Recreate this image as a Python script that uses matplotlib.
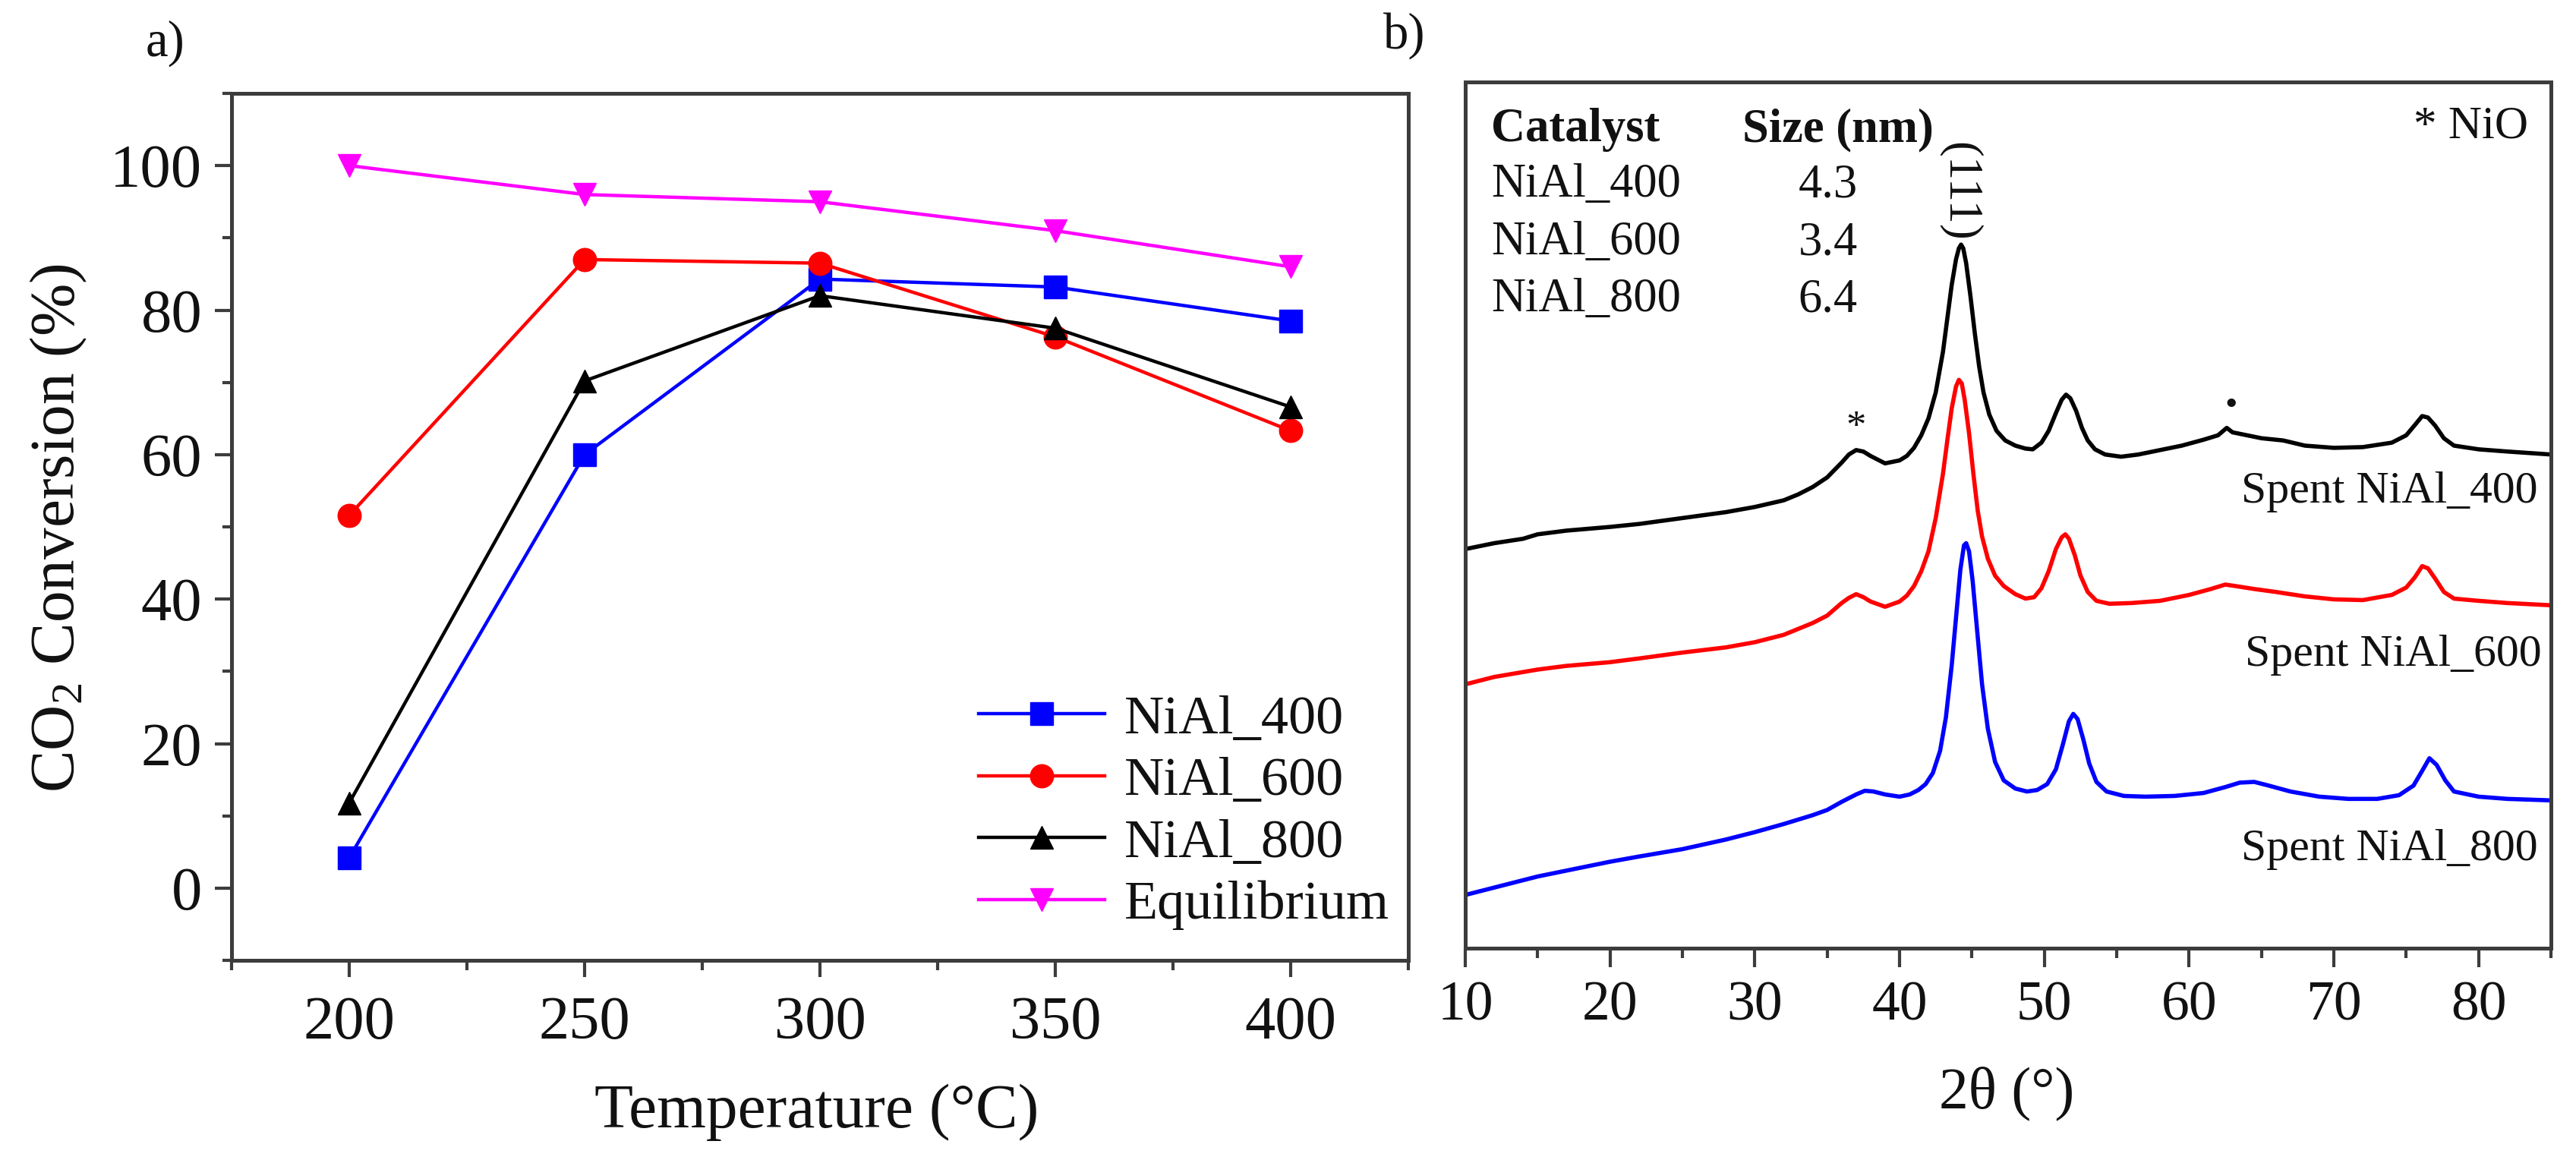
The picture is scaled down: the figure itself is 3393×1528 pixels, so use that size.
import numpy as np
import matplotlib
matplotlib.use('Agg')
import matplotlib.pyplot as plt
from matplotlib.ticker import MultipleLocator

plt.rcParams['font.family'] = ['Liberation Serif', 'DejaVu Serif']
plt.rcParams['mathtext.default'] = 'regular'

# ---- a) CO2 conversion vs temperature
temp = [200, 250, 300, 350, 400]
nial_400 = [4.2, 60.0, 84.3, 83.2, 78.5]
nial_600 = [51.6, 87.0, 86.5, 76.3, 63.3]
nial_800 = [11.8, 70.2, 82.0, 77.5, 66.6]
equilibrium = [100.0, 96.0, 95.0, 91.0, 86.0]

# ---- b) XRD patterns (2theta, intensity a.u. with offsets as drawn)
tt_400 = [10, 12, 14, 15, 17, 20, 22, 25, 28, 30, 32, 33, 34, 35, 36, 36.5, 37, 37.5, 38, 39, 40, 40.5,
          41, 41.5, 42, 42.5, 43, 43.3, 43.6, 43.9, 44.1, 44.25, 44.4, 44.6, 44.9, 45.2, 45.5, 45.8,
          46.2, 46.7, 47.3, 48, 48.7, 49.2, 49.8, 50.3, 50.8, 51.2, 51.5, 51.8, 52.2, 52.6, 53.0, 53.5,
          54.2, 55.3, 56.5, 58, 59.5, 61, 62, 62.6, 63, 64, 65, 66.5, 68, 70, 72, 74, 75, 75.6, 76.1,
          76.5, 77, 77.6, 78.3, 80, 82, 85]
int_400 = [558, 566, 572, 578, 583, 588, 592, 600, 608, 615, 624, 632, 642, 655, 675, 686, 692, 690, 684,
           674, 678, 684, 695, 712, 735, 770, 825, 870, 915, 950, 965, 970, 965, 945, 900, 850, 805, 770,
           740, 718, 705, 698, 694, 693, 702, 718, 742, 760, 767, 762, 745, 722, 705, 693, 686, 683, 686,
           692, 698, 706, 712, 722, 716, 712, 708, 705, 698, 695, 696, 702, 712, 726, 738, 736, 725, 708,
           698, 693, 690, 686]

tt_600 = [10, 12, 15, 17, 20, 22, 25, 28, 30, 32, 33, 34, 35, 36, 36.5, 37, 37.5, 38, 39, 40, 40.5, 41,
          41.5, 42, 42.5, 43, 43.3, 43.6, 43.9, 44.1, 44.3, 44.5, 44.8, 45.1, 45.4, 45.7, 46.1, 46.6,
          47.2, 48, 48.7, 49.3, 49.8, 50.3, 50.8, 51.2, 51.45, 51.7, 52.1, 52.5, 53, 53.6, 54.5, 56, 58,
          60, 61.5, 62.5, 63.2, 64.5, 66, 68, 70, 72, 74, 75, 75.6, 76.1, 76.5, 77, 77.6, 78.3, 80, 82, 85]
int_600 = [375, 385, 395, 400, 405, 410, 418, 425, 432, 442, 450, 458, 468, 485, 492, 497, 493, 487, 480,
           487, 495, 508, 528, 555, 600, 660, 705, 748, 778, 787, 782, 760, 715, 660, 610, 575, 545, 522,
           508, 497, 491, 493, 505, 528, 558, 574, 578, 572, 550, 522, 500, 488, 484, 485, 488, 496, 504,
           510, 508, 504, 500, 494, 490, 489, 496, 506, 520, 535, 532, 518, 500, 491, 488, 485, 482]

tt_800 = [10, 12, 15, 17, 20, 22, 25, 28, 30, 32, 33, 34, 35, 36, 37, 37.6, 38.2, 39, 40, 40.7, 41.3, 41.8,
          42.3, 42.8, 43.2, 43.6, 43.9, 44.2, 44.45, 44.6, 44.8, 45.05, 45.35, 45.7, 46.1, 46.6, 47.2, 48,
          48.8, 49.5, 50.2, 50.8, 51.3, 51.7, 52.0, 52.3, 52.7, 53.1, 53.6, 54.3, 55.5, 57, 59, 61, 62.5,
          63.5, 64.5, 65.5, 67, 69, 71, 73, 74.5, 75.5, 76.1, 76.6, 77.1, 77.7, 78.3, 80, 82, 85]
int_800 = [90, 100, 115, 123, 135, 142, 152, 165, 175, 186, 192, 198, 205, 216, 226, 231, 230, 226, 223,
           226, 232, 240, 255, 285, 330, 400, 465, 530, 563, 566, 555, 515, 450, 375, 315, 270, 245, 234,
           230, 232, 240, 260, 295, 325, 335, 328, 300, 268, 243, 230, 224, 223, 224, 228, 236, 242, 243,
           238, 230, 223, 220, 220, 225, 238, 258, 275, 266, 245, 230, 223, 220, 218]

size_catalysts = ['NiAl_400', 'NiAl_600', 'NiAl_800']
size_nm = ['4.3', '3.4', '6.4']

fig = plt.figure(figsize=(33.93, 15.28), dpi=100)
spine_col = '#3c3c3c'
txt_col = '#111111'

ax1 = fig.add_axes([0.0899, 0.1721, 0.4568, 0.7474])
ax1.plot(temp, nial_400, '-s', color='#0000ff', lw=3.2, ms=21, label='NiAl_400')
ax1.plot(temp, nial_600, '-o', color='#ff0000', lw=3.2, ms=22, label='NiAl_600')
ax1.plot(temp, nial_800, '-^', color='#000000', lw=3.2, ms=22, label='NiAl_800')
ax1.plot(temp, equilibrium, '-v', color='#ff00ff', lw=3.2, ms=22, label='Equilibrium')
ax1.set_xlim(175, 425)
ax1.set_ylim(-10, 110)
ax1.xaxis.set_major_locator(MultipleLocator(50))
ax1.xaxis.set_minor_locator(MultipleLocator(25))
ax1.yaxis.set_major_locator(MultipleLocator(20))
ax1.yaxis.set_minor_locator(MultipleLocator(10))
ax1.tick_params(axis='both', which='major', direction='out', length=16, width=3, colors=spine_col,
                labelcolor=txt_col, labelsize=58)
ax1.tick_params(axis='both', which='minor', direction='out', length=9, width=3, colors=spine_col)
ax1.tick_params(axis='x', which='major', pad=18)
ax1.tick_params(axis='y', which='major', pad=12)
ax1.set_xlabel('Temperature (°C)', fontsize=60, color=txt_col)
ax1.set_ylabel('CO$_2$ Conversion (%)', fontsize=60, color=txt_col)
ax1.xaxis.set_label_coords(0.497, -0.175)
ax1.xaxis.label.set_va('center')
ax1.yaxis.set_label_coords(-0.147, 0.499)
ax1.yaxis.label.set_va('center')
leg = ax1.legend(loc='lower left', bbox_to_anchor=(0.635, 0.035), frameon=False, fontsize=52,
                 handlelength=2.3, handletextpad=0.35, labelspacing=0.22, borderpad=0, borderaxespad=0)
for t in leg.get_texts():
    t.set_color(txt_col)

ax2 = fig.add_axes([0.5688, 0.1826, 0.4215, 0.7467])
ax2.plot(tt_400, int_400, color='#000000', lw=4)
ax2.plot(tt_600, int_600, color='#ff0000', lw=4)
ax2.plot(tt_800, int_800, color='#0000ff', lw=4)
ax2.set_xlim(10, 85)
ax2.set_ylim(18, 1190)
ax2.xaxis.set_major_locator(MultipleLocator(10))
ax2.xaxis.set_minor_locator(MultipleLocator(5))
ax2.set_yticks([])
ax2.tick_params(axis='x', which='major', direction='out', length=18, width=3, colors=spine_col,
                labelcolor=txt_col, labelsize=53, pad=13)
ax2.tick_params(axis='x', which='minor', direction='out', length=9.5, width=3, colors=spine_col)
ax2.set_xlabel('2θ (°)', fontsize=56, color=txt_col)
ax2.xaxis.set_label_coords(0.499, -0.168)
ax2.xaxis.label.set_va('center')

for ax in (ax1, ax2):
    for s in ax.spines.values():
        s.set_linewidth(3.6)
        s.set_color(spine_col)

# table of crystallite sizes
row_y = [1050, 972, 895]
ax2.text(11.8, 1125, 'Catalyst', fontsize=45, fontweight='bold', va='center', ha='left', color=txt_col)
ax2.text(29.15, 1125, 'Size (nm)', fontsize=45, fontweight='bold', va='center', ha='left', color=txt_col)
for c, s, yy in zip(size_catalysts, size_nm, row_y):
    ax2.text(11.8, yy, c, fontsize=45, va='center', ha='left', color=txt_col)
    ax2.text(35.05, yy, s, fontsize=45, va='center', ha='center', color=txt_col)
ax2.text(83.4, 1130, '* NiO', fontsize=44, va='center', ha='right', color=txt_col)
ax2.text(44.15, 1042, '(111)', fontsize=45, va='center', ha='center', rotation=-90, color=txt_col)
ax2.text(37.0, 722, '*', fontsize=38, va='center', ha='center', color=txt_col)
ax2.text(62.9, 752, '•', fontsize=34, va='center', ha='center', color=txt_col)
ax2.text(84.1, 635, 'Spent NiAl_400', fontsize=43, va='center', ha='right', color=txt_col)
ax2.text(84.35, 415, 'Spent NiAl_600', fontsize=43, va='center', ha='right', color=txt_col)
ax2.text(84.1, 152, 'Spent NiAl_800', fontsize=43, va='center', ha='right', color=txt_col)

fig.text(217 / 3393, 1 - 57 / 1528, 'a)', fontsize=48, ha='center', va='center', color=txt_col)
fig.text(1850 / 3393, 1 - 47 / 1528, 'b)', fontsize=48, ha='center', va='center', color=txt_col)

fig.savefig('out.png', dpi=100)
